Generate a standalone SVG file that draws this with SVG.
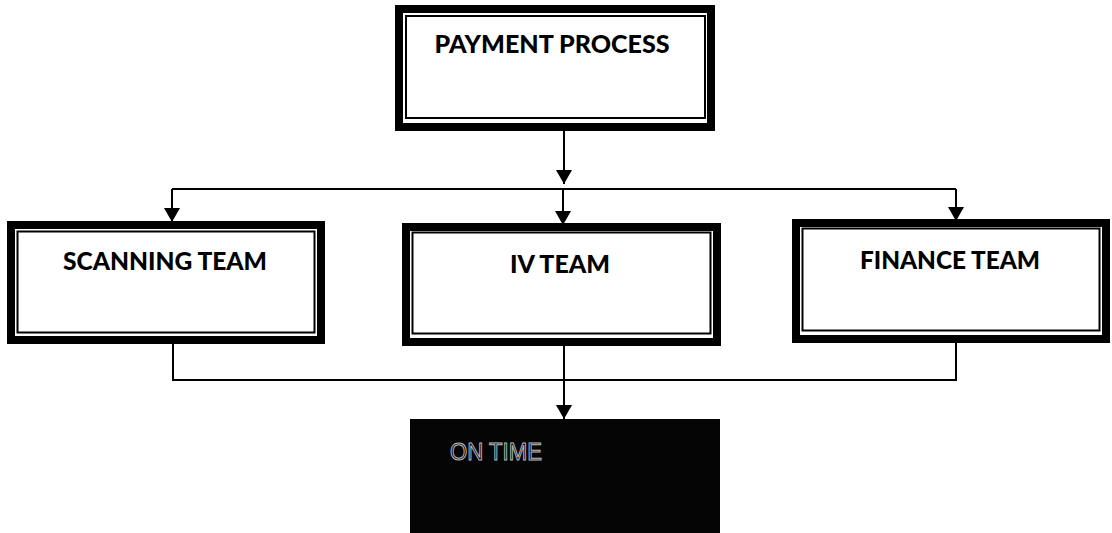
<svg xmlns="http://www.w3.org/2000/svg" width="1112" height="533" viewBox="0 0 1112 533">
<style>
.outer{fill:#fff;stroke:#000;stroke-width:8}
.inner{fill:none;stroke:#000;stroke-width:2}
.lbl{font-family:Lato,"Liberation Sans",sans-serif;font-weight:900;font-size:25px;fill:#000;text-anchor:middle}
.ln{fill:none;stroke:#000;stroke-width:2}
</style>
<defs>
<marker id="ah" viewBox="0 0 14 16" refX="14" refY="8" markerWidth="14" markerHeight="16" markerUnits="userSpaceOnUse" orient="auto">
<path d="M0,0 L14,8 L0,16 Z" fill="#000"/>
</marker>
</defs>
<rect width="1112" height="533" fill="#fff"/>
<g id="connectors">
<line class="ln" x1="564" y1="130" x2="564" y2="184" marker-end="url(#ah)"/>
<line class="ln" x1="172" y1="189" x2="956" y2="189"/>
<line class="ln" x1="172" y1="189" x2="172" y2="222" marker-end="url(#ah)"/>
<line class="ln" x1="563" y1="189" x2="563" y2="225" marker-end="url(#ah)"/>
<line class="ln" x1="956" y1="189" x2="956" y2="221" marker-end="url(#ah)"/>
<polyline class="ln" points="173,344 173,380 956,380 956,343"/>
<line class="ln" x1="564" y1="346" x2="564" y2="419" marker-end="url(#ah)"/>
</g>
<g id="payment-process">
<rect class="outer" x="399" y="9" width="312" height="118"/>
<rect class="inner" x="406" y="16" width="299" height="102"/>
<text class="lbl" x="552" y="53" textLength="235" lengthAdjust="spacingAndGlyphs">PAYMENT PROCESS</text>
</g>
<g id="scanning-team">
<rect class="outer" x="11" y="225" width="310" height="115"/>
<rect class="inner" x="17.5" y="231.5" width="297" height="101"/>
<text class="lbl" x="165" y="270" textLength="204" lengthAdjust="spacingAndGlyphs">SCANNING TEAM</text>
</g>
<g id="iv-team">
<rect class="outer" x="406" y="227" width="311" height="115"/>
<rect class="inner" x="412.5" y="232.5" width="298" height="101"/>
<text class="lbl" x="560" y="273" textLength="100" lengthAdjust="spacingAndGlyphs">IV TEAM</text>
</g>
<g id="finance-team">
<rect class="outer" x="796" y="223" width="310" height="116"/>
<rect class="inner" x="802.5" y="228.5" width="297" height="102"/>
<text class="lbl" x="950" y="269" textLength="180" lengthAdjust="spacingAndGlyphs">FINANCE TEAM</text>
</g>
<g id="on-time">
<rect x="410" y="419" width="310" height="114" fill="#050505"/>
<text x="450" y="460" font-family="'Liberation Sans',sans-serif" font-size="24" fill="none" stroke="#bbb" stroke-width="1" textLength="92" lengthAdjust="spacingAndGlyphs">ON TIME</text>
</g>
</svg>
